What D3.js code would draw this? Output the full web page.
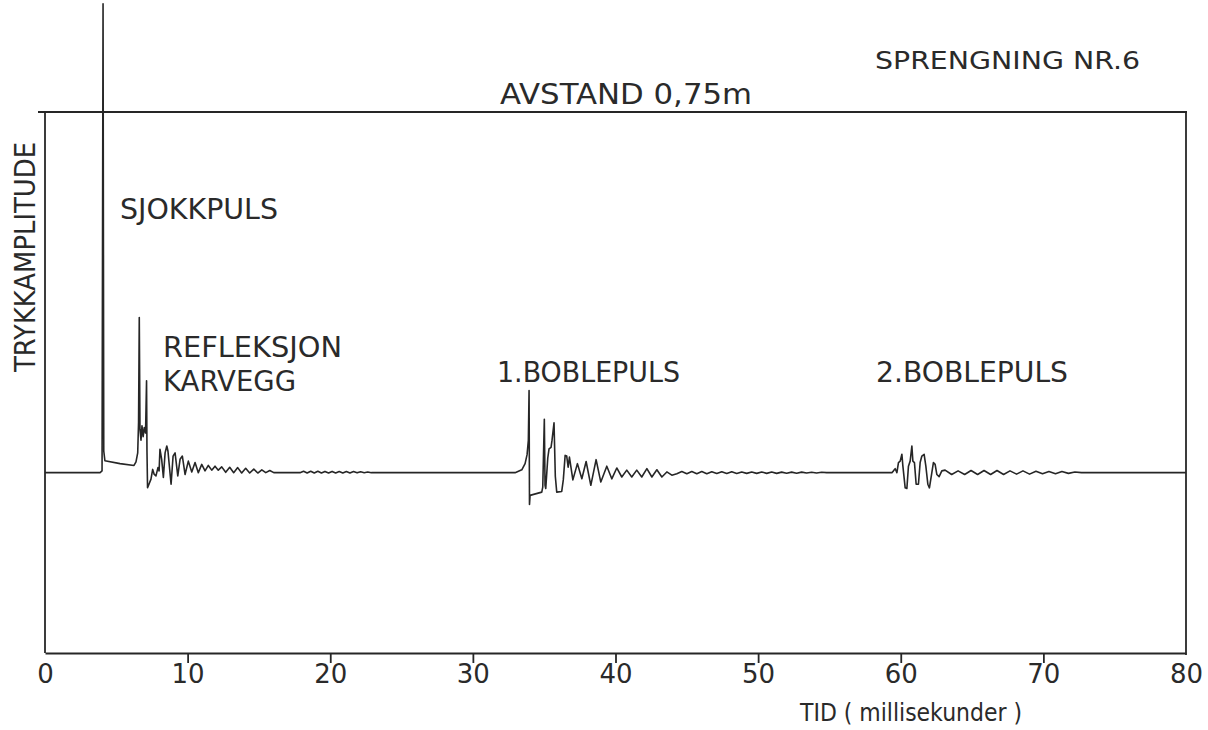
<!DOCTYPE html>
<html>
<head>
<meta charset="utf-8">
<script src="https://cdn.jsdelivr.net/npm/d3@7"></script>
<style>
  html, body { margin: 0; padding: 0; background: #fff; }
  svg { display: block; }
  text { font-family: "DejaVu Sans", "Liberation Sans", sans-serif; fill: #2a2a2a; }
</style>
</head>
<body>
<svg id="chart" width="1208" height="730"></svg>
<script>
// ---- Data (time in ms, pressure amplitude in arbitrary units, baseline = 0) ----
const xTicks = [0, 10, 20, 30, 40, 50, 60, 70, 80];

const shockPulse = [
  [0, 0], [3.86, 0], [4.00, 0.5], [4.07, 130], [4.12, 6], [4.20, 3.3], [5.26, 2.5], [6.24, 2.0]
];

const reflectionKarvegg = [
  [6.38, 3.0], [6.50, 5.5], [6.56, 14], [6.61, 43], [6.66, 12], [6.73, 9], [6.80, 13], [6.88, 10],
  [6.96, 12.5], [7.05, 11], [7.12, 25.5], [7.15, 6], [7.19, -4.2], [7.29, -3.2], [7.43, -1.8],
  [7.55, 0.9], [7.66, -0.5], [7.78, -0.9], [7.92, 1.4], [8.00, 0.5], [8.06, 6.5], [8.18, 3.7],
  [8.30, -1.3], [8.42, 5.5], [8.54, 7.4], [8.62, 6.0], [8.84, -3.2], [8.98, 4.6], [9.12, 5.5],
  [9.31, -0.9], [9.47, 3.7], [9.63, 4.6], [9.82, -0.5], [10.05, 3.2], [10.29, 0.2], [10.52, 2.8],
  [10.75, 0.0], [10.99, 2.3], [11.22, 0.5], [11.45, 2.0], [11.69, 0.7], [11.92, 1.8], [12.15, 0.7],
  [12.39, 1.6], [12.67, 0.1], [12.95, 1.5], [13.23, 0.0], [13.51, 1.4], [13.79, -0.1], [14.07, 1.2],
  [14.35, -0.1], [14.64, 1.0], [14.92, -0.1], [15.20, 0.8], [15.48, 0.0], [15.76, 0.6], [16.04, 0.0]
];

const reflectionTail = [
  [17.88, 0], [18.13, 0.4], [18.38, -0.1], [18.63, 0.4], [18.88, -0.1], [19.13, 0.4], [19.38, -0.1],
  [19.63, 0.35], [19.88, -0.1], [20.13, 0.35], [20.38, -0.1], [20.63, 0.3], [20.88, -0.1],
  [21.13, 0.3], [21.38, -0.1], [21.63, 0.3], [21.88, -0.05], [22.13, 0.25], [22.38, 0],
  [22.63, 0.2], [22.88, 0]
];

const bubble1 = [
  [30.50, 0], [32.96, 0], [33.43, 0.8], [33.66, 2.5], [33.80, 5], [33.89, 9], [33.94, 22.8],
  [33.97, -8.8], [34.01, -6.3], [34.83, -5.4], [34.90, -4], [35.01, 14.8], [35.06, -3.5],
  [35.11, -4.4], [35.25, 4], [35.34, 6.6], [35.48, 7], [35.55, 9], [35.69, 13.8], [35.78, -1],
  [35.88, -5.4], [36.23, -5.2], [36.34, -2], [36.47, 4.8], [36.58, 4.6], [36.68, 1.5], [36.77, 4.3],
  [37.01, -2], [37.33, 2.5], [37.64, -1.7], [37.94, 3.1], [38.27, -3.5], [38.64, 3.6], [38.97, -2.6],
  [39.39, 1.8], [39.74, -1.7], [40.09, 1.3], [40.44, -1.2], [40.79, 0.7], [41.14, -1.2], [41.49, 0.7],
  [41.84, -1.2], [42.20, 1.1], [42.55, -1.2], [42.90, 0.8], [43.25, -1.2], [43.60, 0.2],
  [43.95, -0.7], [44.30, -0.3]
];

const bubble1Tail = [
  [44.65, 0.3], [45.00, -0.3], [45.35, 0.3], [45.70, -0.3], [46.05, 0.3], [46.40, -0.3],
  [46.75, 0.25], [47.10, -0.25], [47.45, 0.25], [47.80, -0.25], [48.15, 0.25], [48.50, -0.25],
  [48.85, 0.2], [49.20, -0.2], [49.55, 0.2], [49.90, -0.2], [50.25, 0.2], [50.60, -0.2],
  [50.95, 0.2], [51.30, -0.2], [51.65, 0.15], [52.00, -0.15], [52.35, 0.15], [52.70, -0.15],
  [53.05, 0.15], [53.40, -0.1], [53.75, 0.1], [54.10, -0.1], [54.45, 0.1], [54.80, 0]
];

const bubble2 = [
  [59.38, 0], [59.49, 0.5], [59.61, 1.1], [59.73, 0], [59.84, 2.8], [59.96, 3.2], [60.08, 5.1],
  [60.15, 1.8], [60.31, -4.2], [60.43, -4.4], [60.54, 1.8], [60.66, 3.2], [60.78, 7.4], [60.85, 3.2],
  [60.96, 2.8], [61.08, -3.2], [61.24, -3.2], [61.36, 2.8], [61.48, 4.6], [61.64, 5.1], [61.76, 1.8],
  [61.90, -3.2], [62.01, -4.2], [62.18, 0], [62.29, 2.8], [62.41, 2.3], [62.53, -0.5], [62.69, -1.1],
  [62.88, 0.5], [63.11, 0.7]
];

const bubble2Tail = [
  [63.57, -0.5], [64.02, 0.5], [64.48, -0.5], [64.93, 0.6], [65.39, -0.5], [65.84, 0.6],
  [66.30, -0.5], [66.75, 0.6], [67.21, -0.5], [67.66, 0.5], [68.12, -0.4], [68.57, 0.5],
  [69.03, -0.4], [69.48, 0.4], [69.94, -0.3], [70.39, 0.3], [70.85, -0.3], [71.30, 0.3],
  [71.76, -0.2], [72.21, 0.2], [72.67, 0], [80, 0]
];

const trace = [].concat(shockPulse, reflectionKarvegg, reflectionTail, bubble1, bubble1Tail, bubble2, bubble2Tail);

// ---- Layout ----
const svg = d3.select("#chart");
const mLeft = 45, mRight = 1186, mTop = 112, mBottom = 653;
const ink = "#262626";

const x = d3.scaleLinear().domain([0, 80]).range([mLeft, mRight]);
const y = d3.scaleLinear().domain([-50, 100]).range([mBottom, mTop]);

// frame
svg.append("line").attr("x1", mLeft - 7).attr("x2", mRight + 1).attr("y1", mTop).attr("y2", mTop)
  .attr("stroke", ink).attr("stroke-width", 2);
svg.append("line").attr("x1", mLeft).attr("x2", mLeft).attr("y1", mTop).attr("y2", mBottom)
  .attr("stroke", ink).attr("stroke-width", 1.8);
svg.append("line").attr("x1", mRight).attr("x2", mRight).attr("y1", mTop).attr("y2", mBottom + 2)
  .attr("stroke", ink).attr("stroke-width", 1.8);

// x axis
const xAxis = d3.axisBottom(x).tickValues(xTicks).tickSize(0).tickFormat(d3.format("d"));
const gx = svg.append("g").attr("transform", `translate(0,${mBottom})`).call(xAxis);
gx.select(".domain").attr("stroke", ink).attr("stroke-width", 2);
gx.selectAll(".tick").append("line")
  .attr("y1", 0).attr("y2", d => (d === 0 || d === 80) ? 0 : 10)
  .attr("stroke", ink).attr("stroke-width", 1.8);
gx.selectAll(".tick text")
  .attr("y", 30).attr("dy", 0)
  .style("font-family", '"DejaVu Sans", sans-serif')
  .style("font-size", "26px").style("fill", "#2a2a2a");

// trace
const line = d3.line().x(d => x(d[0])).y(d => y(d[1]));
svg.append("path").datum(trace)
  .attr("d", line)
  .attr("fill", "none").attr("stroke", ink).attr("stroke-width", 1.6)
  .attr("stroke-linejoin", "round");

// labels
function label(txt, px, py, len, size, rotate) {
  const t = svg.append("text").text(txt)
    .attr("font-size", size)
    .attr("textLength", len).attr("lengthAdjust", "spacingAndGlyphs");
  if (rotate) {
    t.attr("transform", `translate(${px},${py}) rotate(-90)`);
  } else {
    t.attr("x", px).attr("y", py);
  }
  return t;
}
label("SPRENGNING NR.6", 875, 69, 265, 25);
label("AVSTAND 0,75m", 500, 104, 252, 28);
label("SJOKKPULS", 120, 219, 158, 28);
label("REFLEKSJON", 163, 357, 179, 28);
label("KARVEGG", 163, 391, 133, 28);
label("1.BOBLEPULS", 497, 382, 183, 28);
label("2.BOBLEPULS", 876, 382, 192, 28);
label("TRYKKAMPLITUDE", 35, 372, 230, 28, true);
label("TID ( millisekunder )", 800, 721, 222, 25);
</script>
</body>
</html>
